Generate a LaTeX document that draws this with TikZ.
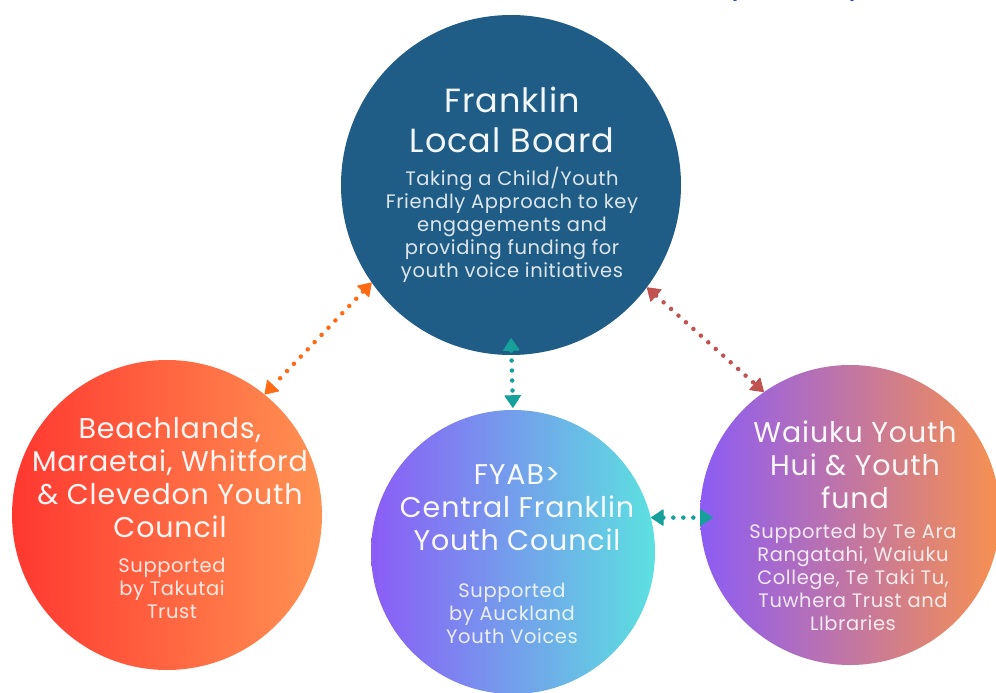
\documentclass[tikz,border=0pt]{standalone}
\usepackage{fontspec}
\setmainfont{Poppins}[LetterSpace=3]
\usetikzlibrary{arrows.meta}
\definecolor{boardblue}{RGB}{31,93,135}
\definecolor{coastred}{RGB}{255,56,48}
\definecolor{coastorange}{RGB}{255,146,82}
\definecolor{fyabpurple}{RGB}{139,92,246}
\definecolor{fyabcyan}{RGB}{92,225,224}
\definecolor{huipurple}{RGB}{140,92,245}
\definecolor{huiorange}{RGB}{247,144,80}
\definecolor{linkorange}{RGB}{255,106,19}
\definecolor{linkred}{RGB}{192,82,80}
\definecolor{linkteal}{RGB}{22,160,155}
\definecolor{inkblue}{RGB}{40,80,200}
\tikzstyle{bubble} = [circle, inner sep=0pt, draw=none]
\tikzstyle{title} = [align=center, anchor=base, inner sep=0pt, text=white, text opacity=0.95, font=\fontsize{28.5}{33}\selectfont]
\tikzstyle{blurb} = [align=center, anchor=base, inner sep=0pt, text=white, text opacity=0.85, font=\fontsize{19.5}{23}\selectfont]
\tikzstyle{dotlink} = [line width=4.5pt, dash pattern=on 0pt off 10pt, line cap=round,
  {Triangle[length=13pt, width=17pt, line width=1pt, round]}-{Triangle[length=13pt, width=17pt, line width=1pt, round]}]

\begin{document}
\begin{tikzpicture}[x=1pt, y=-1pt]
  \useasboundingbox (0,0) rectangle (996,693);
  \fill[white] (0,0) rectangle (996,693);
  \fill[inkblue] (735,-1) circle [radius=2.2pt];
  \fill[inkblue] (852,-1) circle [radius=2.2pt];

  % circles
  \node (board) at (511,185) [bubble, minimum size=340pt, fill=boardblue] {};
  \node (coast) at (167,515) [bubble, minimum size=310pt, left color=coastred, right color=coastorange] {};
  \node (fyab) at (513,552) [bubble, minimum size=284pt, left color=fyabpurple, right color=fyabcyan] {};
  \node (hui) at (850,515) [bubble, minimum size=300pt, left color=huipurple, right color=huiorange] {};

  % texts (placed at the baseline of their last line)
  \node (boardtitle) at (512,152) [title, font=\fontsize{33.5}{40}\selectfont] {Franklin\\Local Board};
  \node (boardtext) at (512,277) [blurb] {Taking a Child/Youth\\Friendly Approach to key\\engagements and\\providing funding for\\youth voice initiatives};
  \node (coasttitle) at (170,537) [title] {Beachlands,\\Maraetai, Whitford\\\& Clevedon Youth\\Council};
  \node (coasttext) at (172,618) [blurb] {Supported\\by Takutai\\Trust};
  \node (fyabtitle) at (517,550) [title] {FYAB>\\Central Franklin\\Youth Council};
  \node (fyabtext) at (512,643) [blurb] {Supported\\by Auckland\\Youth Voices};
  \node (huititle) at (855,508) [title] {Waiuku Youth\\Hui \& Youth\\fund};
  \node (huitext) at (853,630) [blurb] {Supported by Te Ara\\Rangatahi, Waiuku\\College, Te Taki Tu,\\Tuwhera Trust and\\LIbraries};

  % links
  \draw[dotlink, linkorange] (board.215) -- (coast.51);
  \draw[dotlink, linkred] (board.323) -- (hui.125);
  \draw[dotlink, linkteal] ([yshift=17pt]board.south) -- ([yshift=2pt]fyab.north);
  \draw[dotlink, linkteal] (fyab.14) -- ([xshift=13pt]fyab.14 -| hui.west);
\end{tikzpicture}
\end{document}
